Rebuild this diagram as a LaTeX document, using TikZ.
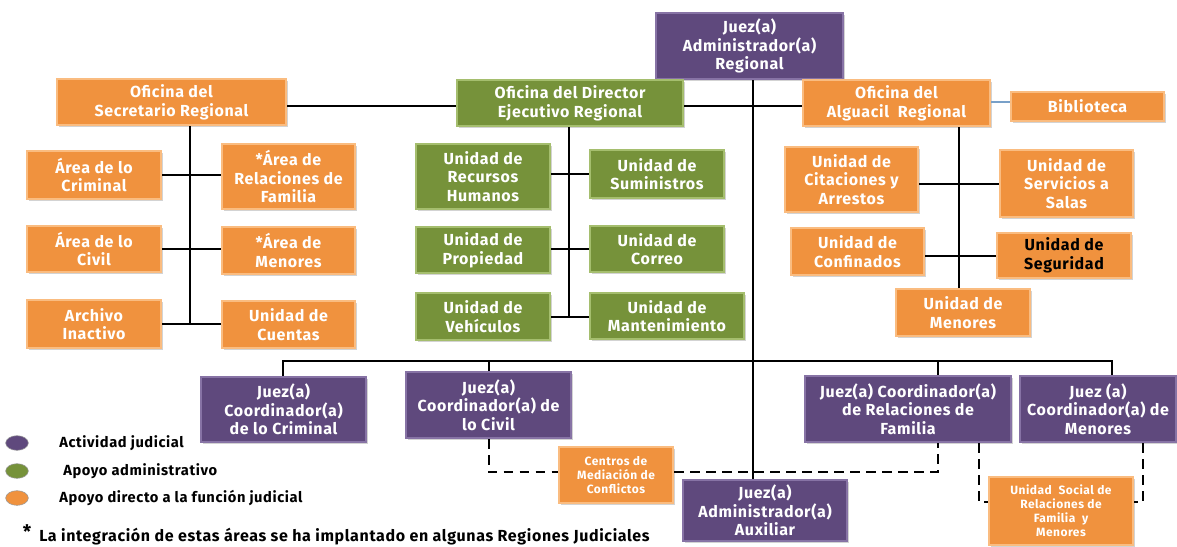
\documentclass[tikz,border=0pt]{standalone}
\usepackage{fontspec}
\setmainfont{Fira Sans}[LetterSpace=4]
\usetikzlibrary{shadows,shapes.geometric}
\definecolor{orB}{RGB}{240,146,62}
\definecolor{orL}{RGB}{250,188,128}
\definecolor{grB}{RGB}{118,146,58}
\definecolor{grL}{RGB}{165,190,110}
\definecolor{puB}{RGB}{95,73,125}
\definecolor{puL}{RGB}{135,115,165}
\definecolor{bibline}{RGB}{120,160,200}
% \bx{style}{name}{x1}{y1}{x2}{y2}{text}
\newcommand\bx[7]{\node[#1, minimum width={(#5-#3)*0.75pt}, minimum height={(#6-#4)*0.75pt}] (#2) at ({(#3+#5)/2},{(#4+#6)/2}) {#7};}
\begin{document}
\begin{tikzpicture}[x=0.75pt,y=-0.75pt,
 box/.style={inner sep=0pt, align=center, text=white, font=\bfseries\fontsize{12}{14}\selectfont, line width=1.8pt, drop shadow={opacity=0.35,shadow xshift=1.2pt,shadow yshift=-1.2pt}},
 obox/.style={box, fill=orB, draw=orL},
 gbox/.style={box, fill=grB, draw=grL},
 pbox/.style={box, fill=puB, draw=puL},
 small/.style={font=\bfseries\fontsize{9}{10.5}\selectfont},
 conn/.style={line width=1.5pt, black},
 dconn/.style={conn, dash pattern=on 7pt off 5pt},
 leg/.style={anchor=west, inner sep=0pt, font=\bfseries\fontsize{11}{12}\selectfont},
 legdot/.style={ellipse, inner sep=0pt, minimum width=17pt, minimum height=11pt, draw=black!40, line width=0.4pt}]
\useasboundingbox (0,0) rectangle (1177,546);

% top level
\bx{pbox}{jar}{656}{13}{843}{79}{Juez(a)\\Administrador(a)\\Regional}
\bx{obox}{sec}{57}{79}{286}{125}{Oficina del\\Secretario Regional}
\bx{gbox}{dir}{457}{80}{683}{126}{Oficina del Director\\Ejecutivo Regional}
\bx{obox}{alg}{803}{80}{990}{126}{Oficina del\\Alguacil\ \ Regional}
\bx{obox}{bib}{1011}{92}{1164}{121}{Biblioteca}

% secretario
\bx{obox}{crim}{27}{151}{161}{199}{Área de lo\\Criminal}
\bx{obox}{rfam}{222}{144}{355}{209}{*Área de\\Relaciones de\\Familia}
\bx{obox}{civ}{27}{226}{161}{272}{Área de lo\\Civil}
\bx{obox}{amen}{222}{227}{355}{274}{*Área de\\Menores}
\bx{obox}{arch}{27}{300}{161}{348}{Archivo\\Inactivo}
\bx{obox}{cta}{222}{301}{355}{348}{Unidad de\\Cuentas}

% director
\bx{gbox}{rh}{416}{144}{550}{209}{Unidad de\\Recursos\\Humanos}
\bx{gbox}{sum}{590}{150}{724}{198}{Unidad de\\Suministros}
\bx{gbox}{prop}{416}{227}{550}{273}{Unidad de\\Propiedad}
\bx{gbox}{corr}{590}{226}{724}{272}{Unidad de\\Correo}
\bx{gbox}{veh}{416}{293}{550}{340}{Unidad de\\Vehículos}
\bx{gbox}{mant}{590}{293}{744}{339}{Unidad de\\Mantenimiento}

% alguacil
\bx{obox}{cit}{785}{147}{918}{212}{Unidad de\\Citaciones y\\Arrestos}
\bx{obox}{sal}{1000}{150}{1133}{217}{Unidad de\\Servicios a\\Salas}
\bx{obox}{conf}{791}{228}{924}{275}{Unidad de\\Confinados}
\bx{obox,text=black}{seg}{997}{233}{1131}{278}{Unidad de\\Seguridad}
\bx{obox}{umen}{896}{289}{1030}{336}{Unidad de\\Menores}

% bottom
\bx{pbox}{jcc}{201}{377}{366}{442}{Juez(a)\\Coordinador(a)\\de lo Criminal}
\bx{pbox}{jcv}{406}{372}{571}{438}{Juez(a)\\Coordinador(a) de\\lo Civil}
\bx{pbox}{jcf}{805}{376}{1011}{442}{Juez(a) Coordinador(a)\\de Relaciones de\\Familia}
\bx{pbox}{jcm}{1020}{376}{1176}{442}{Juez (a)\\Coordinador(a) de\\Menores}
\bx{pbox}{aux}{683}{480}{847}{541}{Juez(a)\\Administrador(a)\\Auxiliar}
\bx{obox,small}{cen}{559}{447}{673}{503}{Centros de\\Mediación de\\Conflictos}
\bx{obox,small}{soc}{989}{477}{1133}{545}{Unidad\ \ Social de\\Relaciones de\\Familia\ \ y\\Menores}

% connectors: secretario
\coordinate (sv) at (190,324);
\draw[conn] (sec.south -| sv) -- (sv);
\draw[conn] (crim.east) -- (crim.east -| rfam.west);
\draw[conn] (civ.east) -- (civ.east -| amen.west);
\draw[conn] (arch.east) -- (arch.east -| cta.west);

% director
\coordinate (dv) at (569,316);
\draw[conn] (dir.south -| dv) -- (dv);
\draw[conn] (rh.east |- sum.west) -- (sum.west);
\draw[conn] (prop.east |- corr.west) -- (corr.west);
\draw[conn] (veh.east) -- (veh.east -| mant.west);

% alguacil
\coordinate (av) at (959,289);
\draw[conn] (alg.south -| av) -- (umen.north -| av);
\draw[conn] (cit.east |- sal.west) -- (sal.west);
\draw[conn] (conf.east |- seg.west) -- (seg.west);

% top row
\coordinate (hl) at (0,106);
\draw[conn] (sec.east |- hl) -- (dir.west |- hl);
\draw[conn] (dir.east |- hl) -- (alg.west |- hl);
\coordinate (bl) at (0,102);
\draw[bibline, line width=0.8pt] (alg.east |- bl) -- (bib.west |- bl);

% main vertical
\coordinate (mv) at (753,0);
\draw[conn] (jar.south -| mv) -- (aux.north -| mv);

% coordinators bar
\coordinate (b1) at (283,361);
\coordinate (b4) at (1112,361);
\coordinate (fx) at (938,0);
\draw[conn] (jcc.north -| b1) -- (b1) -- (b4) -- (jcm.north -| b4);
\draw[conn] (jcv.north) -- (jcv.north |- b1);
\draw[conn] (jcf.north -| fx) -- (fx |- b1);

% dashed links
\coordinate (dy) at (0,472);
\draw[dconn] (jcv.south) -- (jcv.south |- dy) -- (cen.west |- dy);
\draw[dconn] (cen.east |- dy) -- (fx |- dy) -- (jcf.south -| fx);
\coordinate (sx) at (979,502);
\draw[dconn] (jcf.south -| sx) -- (sx) -- (soc.west |- sx);
\coordinate (mx) at (1143,502);
\draw[dconn] (jcm.south -| mx) -- (mx) -- (soc.east |- mx);

% legend
\node[legdot, fill=puB] (l1) at (17,443) {};
\node[legdot, fill=grB] (l2) at (17,471) {};
\node[legdot, fill=orB] (l3) at (17,498) {};
\node[leg] (t1) at (59,443) {Actividad judicial};
\node[leg] (t2) at (63,471) {Apoyo administrativo};
\node[leg] (t3) at (59,498) {Apoyo directo a la función judicial};
\node[inner sep=0pt, font=\bfseries\fontsize{14}{14}\selectfont] (st) at (27,532) {*};
\node[leg, font=\bfseries\fontsize{12}{12}\selectfont] (foot) at (39,537) {La integración de estas áreas se ha implantado en algunas Regiones Judiciales};
\end{tikzpicture}
\end{document}
